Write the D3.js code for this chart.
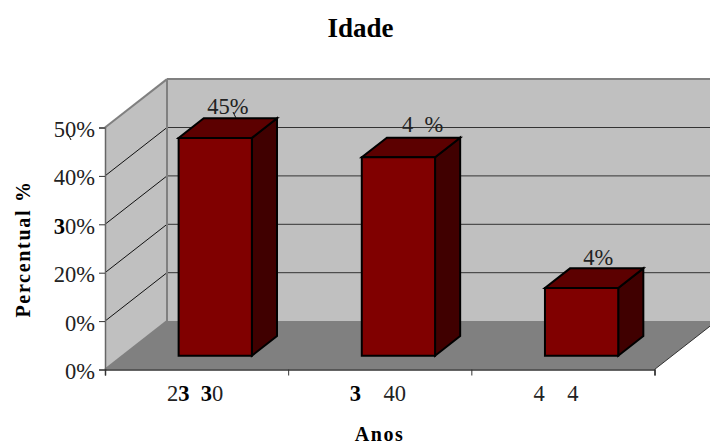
<!DOCTYPE html>
<html>
<head>
<meta charset="utf-8">
<script src="https://cdn.jsdelivr.net/npm/d3@7"></script>
<style>
    html, body { margin: 0; padding: 0; background: #fff; overflow: hidden; }
    text { font-family: "Liberation Serif", serif; fill: #222; white-space: pre; }
    .blob { font-weight: bold; fill: #000; }
    .bold { font-weight: bold; fill: #000; }
</style>
</head>
<body>
<div id="chart"></div>
<script>
// values, labels as they appear (some glyphs are lost in the original)
const categories = ["23  30", "3    40", "4    4"];
const values = [45, 41, 14];
const valueLabels = ["45%", "4  %", "4%"];
const yTicks = [0, 10, 20, 30, 40, 50];
const yTickLabels = ["0%", "0%", "20%", "30%", "40%", "50%"];

const width = 710, height = 445;
const fontSize = 22.5;
const depthX = 62, depthY = 48.4;      // oblique offset of the back wall
const barZ0 = 0.285, barZ1 = 0.69;     // bar position along the depth
const colors = {wall: "#c0c0c0", floor: "#808080", front: "#800000", top: "#5c0000", side: "#400000"};

const svg = d3.select("#chart").append("svg")
    .attr("width", width)
    .attr("height", height)
    .style("display", "block");

const y = d3.scaleLinear().domain([0, 50]).range([369.5, 127.5]);
const x = d3.scaleBand().domain(categories).range([105, 654.5]);
const xEdge = d3.scaleLinear().domain([0, 3]).range([105, 654.5]);
const barW = x.bandwidth() * 0.4;

// oblique projection of a point (px on the front plane, value, depth 0-1)
const pt = (px, v, z) => [px + z * depthX, y(v) - z * depthY];
const poly = pts => pts.map(p => p.join(",")).join(" ");

const x0 = xEdge(0), x1 = xEdge(3);

// walls and floor
svg.append("polygon")
    .attr("points", poly([pt(x0, 0, 0), pt(x0, 0, 1), pt(x1, 0, 1), pt(x1, 0, 0)]))
    .attr("fill", colors.floor);
svg.append("polygon")
    .attr("points", poly([pt(x0, 0, 1), pt(x0, 50, 1), pt(x1, 50, 1), pt(x1, 0, 1)]))
    .attr("fill", colors.wall);
svg.append("polygon")
    .attr("points", poly([pt(x0, 0, 0), pt(x0, 50, 0), pt(x0, 50, 1), pt(x0, 0, 1)]))
    .attr("fill", colors.wall);

// gridlines, side wall then back wall
yTicks.slice(1).forEach(t => {
    if (t < 50) {
        svg.append("line")
            .attr("x1", pt(x0, t, 1)[0]).attr("y1", pt(x0, t, 1)[1])
            .attr("x2", pt(x1, t, 1)[0]).attr("y2", pt(x1, t, 1)[1])
            .attr("stroke", "#333").attr("stroke-width", 1);
    }
    svg.append("line")
        .attr("x1", pt(x0, t, 0)[0]).attr("y1", pt(x0, t, 0)[1])
        .attr("x2", pt(x0, t, 1)[0]).attr("y2", pt(x0, t, 1)[1])
        .attr("stroke", t < 50 ? "#111" : "#808080").attr("stroke-width", t < 50 ? 1 : 2);
});

// wall edges
const edge = [[pt(x0, 0, 1), pt(x0, 50, 1)], [pt(x0, 50, 1), pt(x1, 50, 1)], [pt(x0, 0, 0), pt(x0, 0, 1)]];
edge.forEach(e => {
    svg.append("line")
        .attr("x1", e[0][0]).attr("y1", e[0][1])
        .attr("x2", e[1][0]).attr("y2", e[1][1])
        .attr("stroke", "#808080").attr("stroke-width", 2);
});

// bars
const bars = svg.selectAll(".bar")
    .data(categories.map((c, i) => ({c: c, v: values[i], label: valueLabels[i]})))
    .enter().append("g")
    .attr("class", "bar")
    .attr("stroke", "#000")
    .attr("stroke-width", 2)
    .attr("stroke-linejoin", "miter");

const barLeft = d => x(d.c) + (x.bandwidth() - barW) / 2 + 1;

bars.append("polygon")
    .attr("fill", colors.side)
    .attr("points", d => {
        const r = barLeft(d) + barW;
        return poly([pt(r, 0, barZ0), pt(r, d.v, barZ0), pt(r, d.v, barZ1), pt(r, 0, barZ1)]);
    });
bars.append("polygon")
    .attr("fill", colors.top)
    .attr("points", d => {
        const l = barLeft(d), r = l + barW;
        return poly([pt(l, d.v, barZ0), pt(r, d.v, barZ0), pt(r, d.v, barZ1), pt(l, d.v, barZ1)]);
    });
bars.append("polygon")
    .attr("fill", colors.front)
    .attr("points", d => {
        const l = barLeft(d), r = l + barW;
        return poly([pt(l, 0, barZ0), pt(l, d.v, barZ0), pt(r, d.v, barZ0), pt(r, 0, barZ0)]);
    });

// value labels sit above the bar top, nudged as in the original
const labelDx = [-8, 3.5, 1.6];
const labelDy = [-4, -6, -3];
bars.append("text")
    .attr("stroke", "none")
    .attr("font-size", fontSize)
    .attr("x", (d, i) => pt(barLeft(d) + barW / 2, d.v, barZ0)[0] + labelDx[i])
    .attr("y", (d, i) => pt(0, d.v, barZ1)[1] + labelDy[i])
    .text(d => d.label);

// axes
const styleAxis = (g, color) => {
    g.selectAll(".domain").attr("stroke", color).attr("stroke-width", 1.5);
    g.selectAll(".tick line").attr("stroke", "#333");
    g.selectAll(".tick text").attr("font-size", fontSize).attr("fill", "#222");
};

// draw 3s as the heavy overprinted glyph seen in the picture
const blobThrees = selection => selection.each(function() {
    const t = d3.select(this), s = t.text();
    t.text(null);
    s.split(/(3)/).filter(p => p.length).forEach(p => {
        t.append("tspan").attr("class", p === "3" ? "blob" : null).text(p);
    });
});

const yAxis = svg.append("g")
    .attr("transform", `translate(${x0},0)`)
    .call(d3.axisLeft(y).tickValues(yTicks).tickSize(6).tickPadding(4).tickFormat((d, i) => yTickLabels[i]));
styleAxis(yAxis, "#666");
yAxis.selectAll(".tick text").attr("dy", "0.4em").call(blobThrees);

const xTicks = svg.append("g")
    .attr("transform", `translate(0,${y(0)})`)
    .call(d3.axisBottom(xEdge).tickValues([0, 1, 2, 3]).tickSize(6).tickFormat(""));
styleAxis(xTicks, "#333");

const catDx = [-1.5, -2, -7];
const xLabels = svg.append("g")
    .attr("transform", `translate(0,${y(0)})`)
    .call(d3.axisBottom(x).tickSize(0).tickPadding(16));
xLabels.select(".domain").remove();
styleAxis(xLabels, "none");
xLabels.selectAll(".tick text")
    .attr("dx", (d, i) => catDx[i])
    .call(blobThrees);

// the open right edge of the floor
svg.append("line")
    .attr("x1", pt(x1, 0, 0)[0]).attr("y1", pt(x1, 0, 0)[1])
    .attr("x2", pt(x1, 0, 1)[0]).attr("y2", pt(x1, 0, 1)[1])
    .attr("stroke", "#333").attr("stroke-width", 1);

// stray strokes under the "0" of 50% and the "5" of 45%
const strays = [[68, 134, 71, 140], [233, 112, 236, 118]];
svg.selectAll(".stray")
    .data(strays)
    .enter().append("line")
    .attr("class", "stray")
    .attr("x1", d => d[0]).attr("y1", d => d[1])
    .attr("x2", d => d[2]).attr("y2", d => d[3])
    .attr("stroke", "#111").attr("stroke-width", 1);

// titles
svg.append("text").attr("class", "bold")
    .attr("x", 360.5).attr("y", 37)
    .attr("text-anchor", "middle").attr("font-size", 27)
    .text("Idade");
svg.append("text").attr("class", "bold")
    .attr("transform", "translate(30,249) rotate(-90)")
    .attr("text-anchor", "middle").attr("font-size", 20)
    .attr("letter-spacing", 1.7)
    .text("Percentual %");
svg.append("text").attr("class", "bold")
    .attr("x", 379.5).attr("y", 440.5)
    .attr("text-anchor", "middle").attr("font-size", 20)
    .attr("letter-spacing", 1.6)
    .text("Anos");
</script>
</body>
</html>
